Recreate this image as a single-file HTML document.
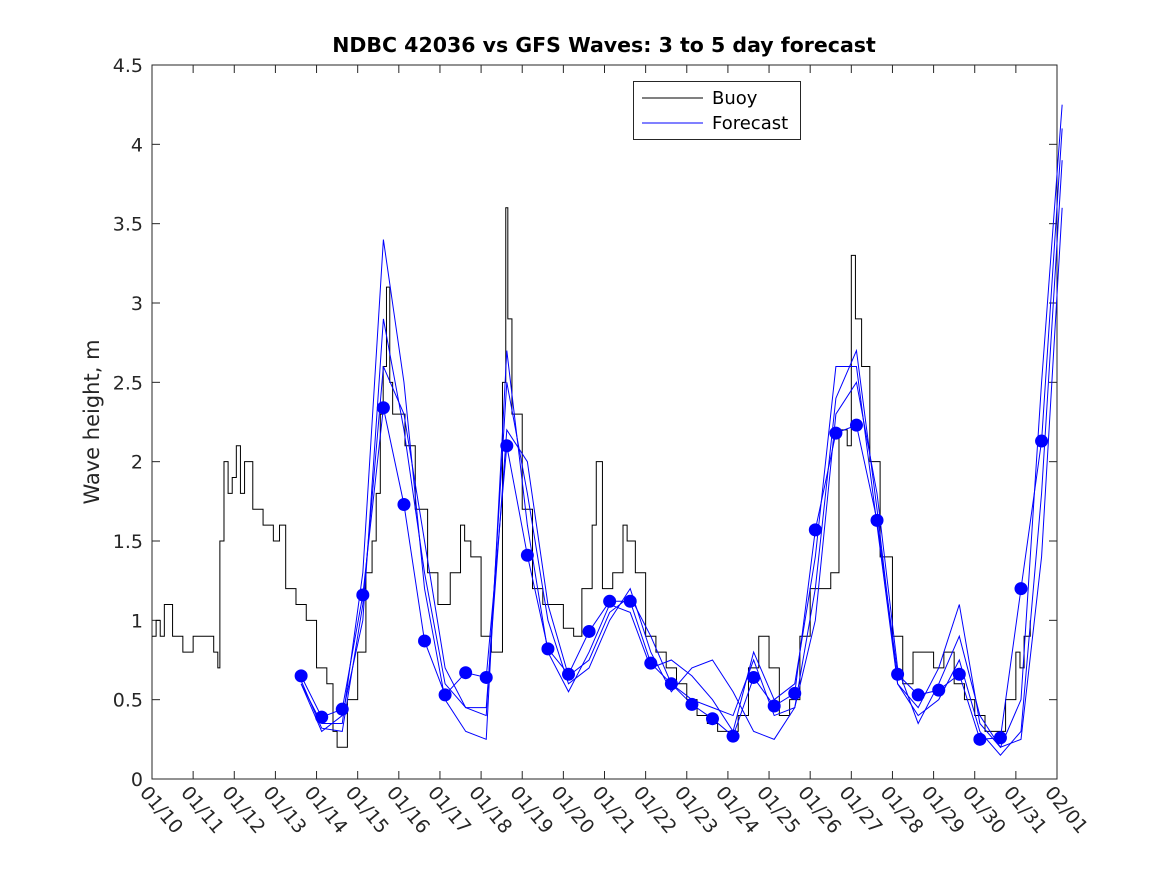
<!DOCTYPE html>
<html><head><meta charset="utf-8"><style>
body{margin:0;background:#fff;}
svg{display:block;font-family:"DejaVu Sans","Liberation Sans",sans-serif;}
</style></head><body>
<svg id="chart" width="1167" height="875">
<rect width="1167" height="875" fill="#fff"/>
</svg>
<script>
const yTicks=[0,0.5,1,1.5,2,2.5,3,3.5,4,4.5];
const xTickLabels=["01/10","01/11","01/12","01/13","01/14","01/15","01/16","01/17","01/18","01/19","01/20","01/21","01/22","01/23","01/24","01/25","01/26","01/27","01/28","01/29","01/30","01/31","02/01"];
const buoyDays=[0,0.1,0.2,0.3,0.5,0.75,1.0,1.25,1.5,1.6,1.65,1.75,1.85,1.95,2.05,2.15,2.25,2.45,2.7,2.95,3.1,3.25,3.5,3.75,4.0,4.25,4.4,4.5,4.75,5.0,5.2,5.35,5.45,5.55,5.62,5.7,5.78,5.85,6.0,6.15,6.4,6.7,6.95,7.25,7.5,7.6,7.75,8.0,8.25,8.5,8.52,8.6,8.65,8.75,9.0,9.25,9.5,9.75,10.0,10.25,10.45,10.7,10.8,10.95,11.2,11.45,11.55,11.75,12.0,12.25,12.5,12.75,13.0,13.25,13.5,13.75,14.0,14.25,14.5,14.75,15.0,15.25,15.5,15.75,16.0,16.25,16.5,16.7,16.9,17.0,17.1,17.25,17.45,17.7,18.0,18.25,18.5,18.75,19.0,19.25,19.5,19.75,20.0,20.25,20.5,20.75,21.0,21.1,21.2,21.35];
const buoyVals=[0.9,1.0,0.9,1.1,0.9,0.8,0.9,0.9,0.8,0.7,1.5,2.0,1.8,1.9,2.1,1.8,2.0,1.7,1.6,1.5,1.6,1.2,1.1,1.0,0.7,0.6,0.3,0.2,0.5,0.8,1.3,1.5,1.8,2.3,2.6,3.1,2.5,2.3,2.3,2.1,1.7,1.3,1.1,1.3,1.6,1.5,1.4,0.9,0.8,0.8,2.5,3.6,2.9,2.3,1.7,1.2,1.1,1.1,0.95,0.9,1.2,1.6,2.0,1.2,1.3,1.6,1.5,1.3,0.9,0.8,0.7,0.6,0.5,0.4,0.35,0.3,0.3,0.4,0.7,0.9,0.7,0.4,0.5,0.9,1.2,1.2,1.3,2.2,2.1,3.3,2.9,2.6,2.0,1.4,0.9,0.6,0.8,0.8,0.7,0.8,0.6,0.5,0.4,0.3,0.3,0.5,0.8,0.7,0.9,1.0];
const dotStart=3.625, dotStep=0.5;
const dotVals=[0.65,0.39,0.44,1.16,2.34,1.73,0.87,0.53,0.67,0.64,2.10,1.41,0.82,0.66,0.93,1.12,1.12,0.73,0.60,0.47,0.38,0.27,0.64,0.46,0.54,1.57,2.18,2.23,1.63,0.66,0.53,0.56,0.66,0.25,0.26,1.20,2.13,4.1];
const runB=[0.6,0.35,0.35,1.3,3.4,2.5,1.2,0.5,0.3,0.25,2.7,1.6,0.8,0.55,0.8,1.1,1.05,0.7,0.75,0.65,0.5,0.3,0.8,0.5,0.6,1.4,2.6,2.6,1.6,0.6,0.45,0.7,1.1,0.35,0.2,0.5,2.5,4.25];
const runC=[0.6,0.3,0.4,1.0,2.9,2.2,1.3,0.6,0.45,0.4,2.5,1.8,1.0,0.6,0.7,1.0,1.2,0.8,0.55,0.7,0.75,0.55,0.3,0.25,0.45,1.2,2.4,2.7,1.7,0.6,0.4,0.5,0.75,0.3,0.15,0.3,1.8,3.9];
const runD=[0.62,0.32,0.3,1.1,2.6,2.3,1.5,0.7,0.45,0.45,2.2,2.0,1.1,0.65,0.75,1.05,1.15,0.9,0.6,0.5,0.45,0.4,0.75,0.4,0.45,1.0,2.3,2.5,1.8,0.7,0.35,0.6,0.9,0.4,0.2,0.25,1.4,3.6];
const svg=document.getElementById('chart');
const NS='http://www.w3.org/2000/svg';
const X0=152,X1=1057,Y0=779,Y1=65;
const xs=d=>X0+d*(X1-X0)/22;
const ys=v=>Y0-v*(Y0-Y1)/4.5;
function mk(t,a){const e=document.createElementNS(NS,t);for(const k in a)e.setAttribute(k,a[k]);svg.appendChild(e);return e;}
let e=mk('rect',{x:X0,y:Y1,width:X1-X0,height:Y0-Y1,fill:'none',stroke:'#262626','stroke-width':1});


yTicks.forEach(v=>{
  mk('line',{x1:X0,x2:X0+8,y1:ys(v),y2:ys(v),stroke:'#262626'});
  mk('line',{x1:X1,x2:X1-8,y1:ys(v),y2:ys(v),stroke:'#262626'});
  let l=mk('text',{x:X0-9,y:ys(v)+7,'text-anchor':'end','font-size':19,fill:'#262626'});
  l.textContent=String(v);
  
  
});
xTickLabels.forEach((s,i)=>{
  mk('line',{x1:xs(i),x2:xs(i),y1:Y0,y2:Y0-8,stroke:'#262626'});
  mk('line',{x1:xs(i),x2:xs(i),y1:Y1,y2:Y1+8,stroke:'#262626'});
  let l=mk('text',{x:0,y:0,'font-size':19,fill:'#262626',transform:`translate(${xs(i)-13},${Y0+14}) rotate(50)`});
  l.textContent=s;
  
  
});
let p='';
buoyDays.forEach((d,i)=>{const x=xs(d),y=ys(buoyVals[i]);p+=(i?`H${x}V${y}`:`M${x},${y}`);});
e=mk('path',{d:p,fill:'none',stroke:'#000','stroke-width':1});


[runB,runC,runD].forEach((r,k)=>{
  let q=r.map((v,i)=>(i?'L':'M')+xs(dotStart+i*dotStep)+','+ys(v)).join('');
  let ln=mk('path',{d:q,fill:'none',stroke:'#0000ff','stroke-width':1});
  
  
});
let q=dotVals.map((v,i)=>(i?'L':'M')+xs(dotStart+i*dotStep)+','+ys(v)).join('');
e=mk('path',{d:q,fill:'none',stroke:'#0000ff','stroke-width':1});


dotVals.forEach((v,i)=>{
  if(i>=dotVals.length-1)return;
  let c=mk('circle',{cx:xs(dotStart+i*dotStep),cy:ys(v),r:6.5,fill:'#0000ff'});
  
  
});
</script>
<svg style="position:absolute;left:0;top:0" width="1167" height="875">
<text x="604" y="52" text-anchor="middle" font-size="20.5" font-weight="bold" fill="#000" font-family="DejaVu Sans,sans-serif">NDBC 42036 vs GFS Waves: 3 to 5 day forecast</text>
<text transform="translate(99,422) rotate(-90)" text-anchor="middle" font-size="21" fill="#262626" font-family="DejaVu Sans,sans-serif">Wave height, m</text>
<g>
<rect x="633.5" y="81.5" width="167" height="58" fill="#fff" stroke="#262626"/>
<line x1="642" x2="703" y1="98" y2="98" stroke="#000"/>
<text x="712" y="104" font-size="18" fill="#000" font-family="DejaVu Sans,sans-serif">Buoy</text>
<line x1="642" x2="703" y1="123" y2="123" stroke="#0000ff"/>
<text x="712" y="129" font-size="18" fill="#000" font-family="DejaVu Sans,sans-serif">Forecast</text>
</g>
</svg>
</body></html>
